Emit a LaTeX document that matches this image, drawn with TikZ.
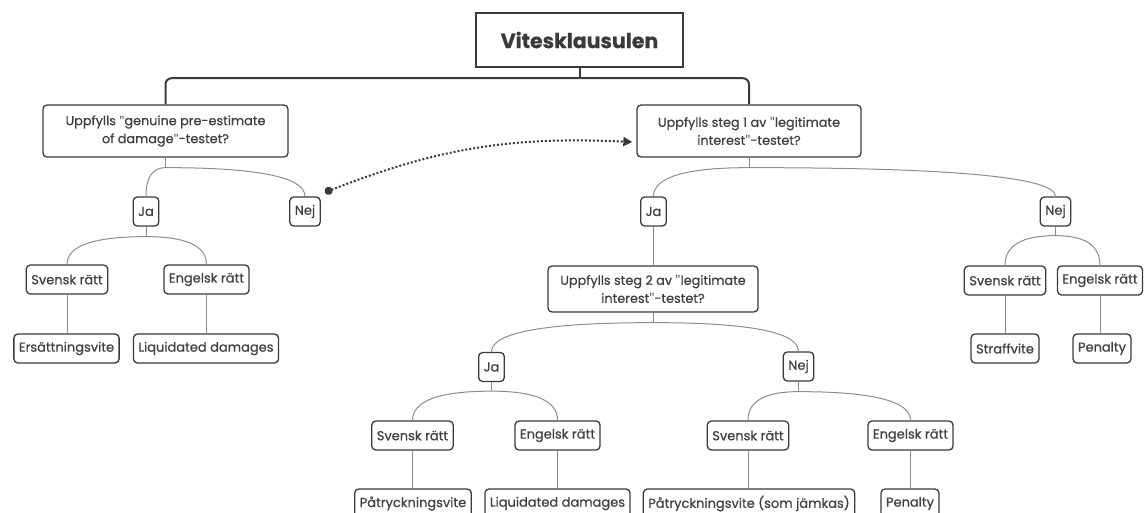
\documentclass[tikz,border=0pt]{standalone}
\usepackage{fontspec}
\setmainfont{Poppins}[FakeBold=0.6]
\newfontfamily\qfont{Open Sans}
\newcommand{\dq}{{\qfont"}}
\usetikzlibrary{arrows.meta,calc}
\definecolor{bd}{HTML}{3A3A3A}
\definecolor{tx}{HTML}{404040}
\definecolor{ln}{HTML}{8C8C8C}
\begin{document}
\begin{tikzpicture}[x=1pt,y=-1pt,
  box/.style={draw=bd, line width=1.3pt, rounded corners=4pt, fill=white, text=tx,
    font=\fontsize{13}{15}\selectfont, minimum height=29pt, inner xsep=5pt, inner ysep=0pt},
  qbox/.style={box, minimum height=52pt, align=center, font=\fontsize{12.8}{18}\selectfont},
  titlebox/.style={draw=bd, line width=2.5pt, text=bd, fill=white,
    font=\fontsize{20.5}{24}\selectfont\bfseries, minimum width=207pt, minimum height=54pt},
  trunk/.style={draw=bd, line width=2pt, rounded corners=6pt},
  branch/.style={draw=ln, line width=1pt},
  link/.style={draw=bd, line width=2pt, dash pattern=on 2pt off 2pt,
    {Circle[length=8pt]}-{Triangle[length=9pt,width=9pt]}}
]
\useasboundingbox (0,0) rectangle (1144,513);

% nodes
\node[titlebox] (t) at (579.5,40) {Vitesklausulen};
\node[qbox, minimum width=245pt] (q1) at (165.5,131) {Uppfylls \dq genuine pre-estimate\\of damage\dq-testet?};
\node[qbox, minimum width=224pt] (q2) at (749,131) {Uppfylls steg 1 av \dq legitimate\\interest\dq-testet?};

\node[box] (ja1) at (146,211.5) {Ja};
\node[box] (nej1) at (305,211.5) {Nej};
\node[box] (sv1) at (67,279.5) {Svensk rätt};
\node[box] (en1) at (206.5,279.5) {Engelsk rätt};
\node[box] (er1) at (66.5,348.5) {Ersättningsvite};
\node[box] (ld1) at (206,348.5) {Liquidated damages};

\node[box] (ja2) at (653.5,211.5) {Ja};
\node[box] (nej2) at (1055.5,211.5) {Nej};
\node[qbox, minimum width=210pt, minimum height=46pt] (q3) at (653,289) {Uppfylls steg 2 av \dq legitimate\\interest\dq-testet?};
\node[box] (sv2) at (1005,280.5) {Svensk rätt};
\node[box] (en2) at (1100,280.5) {Engelsk rätt};
\node[box] (sf2) at (1005,348.5) {Straffvite};
\node[box] (pe2) at (1102,348.5) {Penalty};

\node[box] (ja3) at (491.5,367) {Ja};
\node[box] (nej3) at (798.5,366.5) {Nej};
\node[box] (sv3) at (412.5,435.5) {Svensk rätt};
\node[box] (en3) at (557.5,435.5) {Engelsk rätt};
\node[box] (sv4) at (748,435.5) {Svensk rätt};
\node[box] (en4) at (910.5,435.5) {Engelsk rätt};
\node[box] (pv3) at (413,503.5) {Påtryckningsvite};
\node[box] (ld3) at (557.5,503.5) {Liquidated damages};
\node[box] (pv4) at (749,503.5) {Påtryckningsvite (som jämkas)};
\node[box] (pe4) at (910,503.5) {Penalty};

% trunk
\coordinate (tj) at ($(t.south)+(0,10)$);
\draw[trunk] (t.south) -- (tj);
\draw[trunk] (tj) -| (q1.north);
\draw[trunk] (tj) -| (q2.north);

% curved branches (quadratic)
\newcommand{\twig}[2]{%
  \draw[branch] (#1) .. controls ($(#1)!2/3!(#2.north |- #1)$) and ($(#2.north)!2/3!(#2.north |- #1)$) .. (#2.north);}
\coordinate (j1) at ($(q1.south)+(0,10)$);
\draw[branch] (q1.south) -- (j1);
\twig{j1}{ja1}\twig{j1}{nej1}
\coordinate (j2) at ($(ja1.south)+(0,10)$);
\draw[branch] (ja1.south) -- (j2);
\twig{j2}{sv1}\twig{j2}{en1}
\draw[branch] (sv1.south) -- (er1.north -| sv1.south);
\draw[branch] (en1.south) -- (ld1.north -| en1.south);

\coordinate (j3) at ($(q2.south)+(0,10)$);
\draw[branch] (q2.south) -- (j3);
\twig{j3}{ja2}\twig{j3}{nej2}
\coordinate (j4) at ($(nej2.south)+(0,9)$);
\draw[branch] (nej2.south) -- (j4);
\twig{j4}{sv2}\twig{j4}{en2}
\draw[branch] (sv2.south) -- (sf2.north -| sv2.south);
\draw[branch] (en2.south) -- (pe2.north -| en2.south);
\draw[branch] (ja2.south) -- (q3.north -| ja2.south);

\coordinate (j5) at ($(q3.south)+(0,10)$);
\draw[branch] (q3.south) -- (j5);
\twig{j5}{ja3}\twig{j5}{nej3}
\coordinate (j6) at ($(ja3.south)+(0,9)$);
\draw[branch] (ja3.south) -- (j6);
\twig{j6}{sv3}\twig{j6}{en3}
\coordinate (j7) at ($(nej3.south)+(0,10)$);
\draw[branch] (nej3.south) -- (j7);
\twig{j7}{sv4}\twig{j7}{en4}
\draw[branch] (sv3.south) -- (pv3.north -| sv3.south);
\draw[branch] (en3.south) -- (ld3.north -| en3.south);
\draw[branch] (sv4.south) -- (pv4.north -| sv4.south);
\draw[branch] (en4.south) -- (pe4.north -| en4.south);

% dotted link
\draw[link] ([shift={(4,-4)}]nej1.north east) to[bend left=12] ([shift={(-4,11)}]q2.west);
\end{tikzpicture}
\end{document}
